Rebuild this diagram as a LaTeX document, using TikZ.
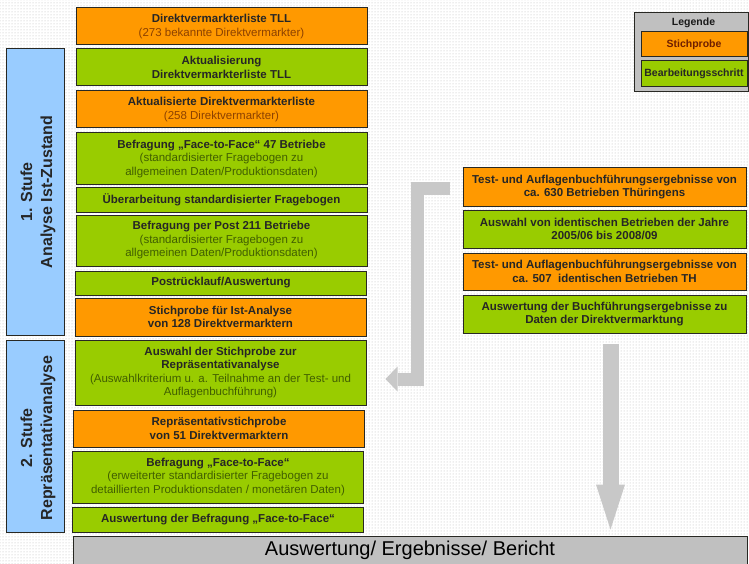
\documentclass[tikz,border=0pt]{standalone}
\usepackage{fontspec}
\setmainfont{Liberation Sans}
\usetikzlibrary{positioning,arrows.meta,calc,patterns}

\definecolor{boxorange}{RGB}{255,153,0}
\definecolor{boxgreen}{RGB}{153,204,0}
\definecolor{boxblue}{RGB}{153,204,255}
\definecolor{bargray}{RGB}{192,192,192}
\definecolor{arrowgray}{RGB}{200,200,200}
\definecolor{suborange}{RGB}{140,65,0}
\definecolor{subgreen}{RGB}{65,95,0}
\definecolor{legred}{RGB}{110,30,0}
\definecolor{edge}{RGB}{40,40,35}

\newcommand{\osub}[1]{{\mdseries\color{suborange}#1}}
\newcommand{\gsub}[1]{{\mdseries\color{subgreen}#1}}

\tikzset{
  stepbase/.style={draw=edge, line width=1pt, align=center, inner sep=0pt,
    minimum width=291pt, text=black!85, font=\fontsize{11.5}{13.5}\selectfont\bfseries},
  sample/.style={stepbase, fill=boxorange},
  work/.style={stepbase, fill=boxgreen},
  phase/.style={draw=edge, line width=1pt, fill=boxblue, inner sep=0pt, minimum width=58pt},
  phasetext/.style={rotate=90, align=center, inner sep=0pt, text=black!85,
    font=\fontsize{16}{20}\selectfont\bfseries},
  blockarrow/.style={draw=arrowgray, line join=miter},
}

\begin{document}
\begin{tikzpicture}[x=1pt,y=-1pt]
  \useasboundingbox (0,0) rectangle (749,564);
  % dotted background
  \fill[white] (0,0) rectangle (749,564);
  \fill[pattern=dots, pattern color=gray!55] (0,0) rectangle (749,564);

  % left column: steps
  \node[sample, minimum height=37pt] (l1) at (221.5,26.5)
    {Direktvermarkterliste TLL\\\osub{(273 bekannte Direktvermarkter)}};
  \node[work, minimum height=37pt] (l2) at (221.5,67.5)
    {Aktualisierung\\Direktvermarkterliste TLL};
  \node[sample, minimum height=37pt] (l3) at (221.5,109.5)
    {Aktualisierte Direktvermarkterliste\\\osub{(258 Direktvermarkter)}};
  \node[work, minimum height=52pt] (l4) at (221.5,159)
    {Befragung „Face-to-Face“ 47 Betriebe\\\gsub{(standardisierter Fragebogen zu}\\\gsub{allgemeinen Daten/Produktionsdaten)}};
  \node[work, minimum height=24pt] (l5) at (221.5,200)
    {Überarbeitung standardisierter Fragebogen};
  \node[work, minimum height=51pt] (l6) at (221.5,240.5)
    {Befragung per Post 211 Betriebe\\\gsub{(standardisierter Fragebogen zu}\\\gsub{allgemeinen Daten/Produktionsdaten)}};
  \node[work, minimum height=24pt] (l7) at (221,283)
    {Postrücklauf/Auswertung};
  \node[sample, minimum height=38pt] (l8) at (220.5,317)
    {Stichprobe für Ist-Analyse\\von 128 Direktvermarktern};
  \node[work, minimum height=65pt] (l9) at (220.5,372.5)
    {Auswahl der Stichprobe zur\\Repräsentativanalyse\\\gsub{(Auswahlkriterium u. a. Teilnahme an der Test- und}\\\gsub{Auflagenbuchführung)}};
  \node[sample, minimum height=37pt] (l10) at (219,428.5)
    {Repräsentativstichprobe\\von 51 Direktvermarktern};
  \node[work, minimum height=52pt] (l11) at (218,477)
    {Befragung „Face-to-Face“\\\gsub{(erweiterter standardisierter Fragebogen zu}\\\gsub{detaillierten Produktionsdaten / monetären Daten)}};
  \node[work, minimum height=25pt] (l12) at (218,519.5)
    {Auswertung der Befragung „Face-to-Face“};

  % phases
  \node[phase, minimum height=286pt] (stage1) at (35,192) {};
  \node[phasetext] (stage1text) at ([xshift=3pt]stage1.center) {1. Stufe\\Analyse Ist-Zustand};
  \node[phase, minimum height=192pt] (stage2) at (35,436) {};
  \node[phasetext] (stage2text) at ([xshift=3pt,yshift=-2pt]stage2.center) {2. Stufe\\Repräsentativanalyse};

  % right column: accounting data
  \node[sample, minimum width=283pt, minimum height=38pt] (rA) at (604.5,187)
    {Test- und Auflagenbuchführungsergebnisse von\\ca. 630 Betrieben Thüringens};
  \node[work, minimum width=283pt, minimum height=38pt] (rB) at (604.5,229)
    {Auswahl von identischen Betrieben der Jahre\\2005/06 bis 2008/09};
  \node[sample, minimum width=283pt, minimum height=37pt] (rC) at (604.5,271.5)
    {Test- und Auflagenbuchführungsergebnisse von\\ca. 507~ identischen Betrieben TH};
  \node[work, minimum width=283pt, minimum height=38pt] (rD) at (604.5,314)
    {Auswertung der Buchführungsergebnisse zu\\Daten der Direktvermarktung};

  % result bar
  \node[draw=edge, line width=1pt, fill=bargray, minimum width=674pt, minimum height=28pt,
    inner sep=0pt, font=\fontsize{20}{24}\selectfont] (result) at (410,550)
    {Auswertung/ Ergebnisse/ Bericht};

  % legend
  \node[draw=edge, line width=1pt, fill=bargray, minimum width=114pt, minimum height=79pt,
    inner sep=0pt] (legend) at (691,52.5) {};
  \node[font=\fontsize{10.5}{12}\selectfont\bfseries, text=black!90] (legtitle) at (693.5,22.5) {Legende};
  \node[sample, minimum width=106pt, minimum height=25pt, text=legred,
    font=\fontsize{10.5}{12}\selectfont\bfseries] (legsample) at (694,44.5) {Stichprobe};
  \node[work, minimum width=106pt, minimum height=26pt,
    font=\fontsize{10.5}{12}\selectfont\bfseries] (legwork) at (694,74) {Bearbeitungsschritt};

  % arrows
  \draw[blockarrow, line width=13pt, -{Triangle[width=25pt,length=12pt,line width=0pt]}]
    ([xshift=-13pt,yshift=-2pt]rA.west) -| ([xshift=51pt,yshift=-6.5pt]l9.east)
    -- ([xshift=19pt,yshift=-6.5pt]l9.east);
  \draw[blockarrow, line width=16pt, -{Triangle[width=29pt,length=45pt,line width=0pt]}]
    ([xshift=6pt,yshift=-10pt]rD.south) -- ($(rD.south |- result.north)+(6,-6)$);
\end{tikzpicture}
\end{document}
